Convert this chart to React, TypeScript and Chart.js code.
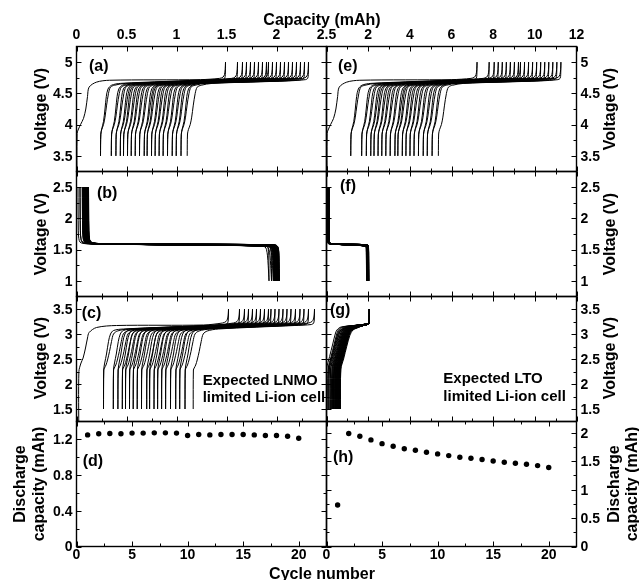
import React, { useEffect, useRef } from 'react';
import { Chart, registerables } from 'chart.js';
Chart.register(...registerables);

const FONT = '"Liberation Sans", Arial, Helvetica, sans-serif';

// ---------------- data ----------------
const cycles = [1, 2, 3, 4, 5, 6, 7, 8, 9, 10, 11, 12, 13, 14, 15, 16, 17, 18, 19, 20];
// (d) discharge capacity, LNMO limited cell (mAh)
const lnmoLimitedCap = [1.25, 1.262, 1.266, 1.262, 1.27, 1.27, 1.273, 1.273, 1.27, 1.243, 1.254, 1.25, 1.254, 1.254, 1.254, 1.25, 1.243, 1.243, 1.235, 1.213];
// (h) discharge capacity, LTO limited cell (mAh)
const ltoLimitedCap = [0.73, 1.99, 1.94, 1.876, 1.81, 1.765, 1.72, 1.695, 1.66, 1.63, 1.6, 1.57, 1.553, 1.53, 1.506, 1.483, 1.465, 1.447, 1.424, 1.39];

// (a) LNMO half cell: end-of-charge capacity per cycle (mAh)
const lnmoChargeEnd = [1.49, 1.61, 1.66, 1.7, 1.74, 1.78, 1.82, 1.86, 1.9, 1.92, 1.96, 2.0, 2.04, 2.08, 2.12, 2.16, 2.2, 2.24, 2.28, 2.32];
// (e) capacity scale of LNMO electrode vs (a)
const lnmoScaleE = 4.85;
// curve shapes read from (a): [capacity offset (mAh), voltage (V)]
const lnmoFirstHead = [[0.005, 3.0], [0.006, 3.86], [0.02, 3.93], [0.04, 4.0], [0.07, 4.1], [0.093, 4.25], [0.11, 4.45], [0.126, 4.6], [0.2, 4.68], [0.33, 4.71]];
const lnmoChargeHead = [[0, 3.5], [0.003, 3.84], [0.012, 3.93], [0.03, 4.05], [0.045, 4.25], [0.058, 4.45], [0.075, 4.57], [0.11, 4.63], [0.2, 4.66]];
const lnmoChargeTail = [[-0.25, 4.72], [-0.06, 4.74], [-0.025, 4.76], [-0.01, 4.8], [-0.003, 4.88], [0, 5.0]];
const lnmoDischHead = [[0, 5.0], [-0.002, 4.8], [-0.008, 4.74], [-0.03, 4.72], [-0.2, 4.7]];
const lnmoDischTail = [[0.25, 4.66], [0.14, 4.63], [0.1, 4.6], [0.08, 4.5], [0.06, 4.3], [0.045, 4.12], [0.03, 4.0], [0.012, 3.92], [0.003, 3.85], [0, 3.5]];

// (b)/(f) LTO half cell
const ltoStart = [0.015, 0.035, 0.058, 0.065, 0.07, 0.075, 0.08, 0.084, 0.088, 0.092, 0.096, 0.1, 0.103, 0.106, 0.109, 0.112, 0.114, 0.116, 0.118, 0.12];
const ltoEnd = [1.925, 1.95, 1.968, 1.975, 1.98, 1.985, 1.99, 1.994, 1.998, 2.002, 2.006, 2.01, 2.013, 2.016, 2.019, 2.022, 2.024, 2.026, 2.028, 2.03];
const ltoDischHead = [[0, 2.5], [0.003, 1.8], [0.008, 1.68], [0.02, 1.62], [0.05, 1.6], [0.12, 1.59]];
const ltoDischTail = [[-0.3, 1.565], [-0.08, 1.555], [-0.04, 1.545], [-0.025, 1.5], [-0.015, 1.4], [-0.008, 1.25], [0, 1.0]];
const ltoChargeHead = [[0, 1.0], [-0.002, 1.4], [-0.01, 1.53], [-0.03, 1.57], [-0.1, 1.58]];
const ltoChargeTail = [[0.3, 1.59], [0.08, 1.6], [0.03, 1.62], [0.012, 1.66], [0.004, 1.8], [0, 2.5]];

// (c) expected LNMO limited Li-ion cell
const cellChargeEnd = [1.52, 1.63, 1.68, 1.72, 1.76, 1.8, 1.84, 1.88, 1.92, 1.945, 1.985, 2.025, 2.065, 2.105, 2.145, 2.19, 2.235, 2.275, 2.32, 2.38];
const cellFirstHead = [[0.023, 1.0], [0.024, 2.25], [0.045, 2.42], [0.066, 2.52], [0.09, 2.72], [0.11, 2.92], [0.126, 3.03], [0.2, 3.13], [0.4, 3.17]];
const cellChargeHead = [[0, 1.5], [0.003, 2.3], [0.012, 2.42], [0.03, 2.6], [0.05, 2.85], [0.07, 3.0], [0.1, 3.07], [0.2, 3.1]];
const cellChargeTail = [[-0.25, 3.18], [-0.06, 3.22], [-0.025, 3.25], [-0.01, 3.3], [-0.003, 3.38], [0, 3.5]];
const cellDischHead = [[0, 3.5], [-0.002, 3.3], [-0.008, 3.22], [-0.03, 3.19], [-0.2, 3.17]];
const cellDischTail = [[0.25, 3.1], [0.14, 3.06], [0.1, 3.0], [0.08, 2.85], [0.06, 2.65], [0.04, 2.48], [0.025, 2.38], [0.01, 2.32], [0.002, 2.28], [0, 1.5]];

// (g) expected LTO limited Li-ion cell
const gChargeEnd = 2.06;
const gChargeHead = [[0, 1.5], [0.01, 2.3], [0.15, 2.55], [0.3, 2.8], [0.42, 3.0], [0.5, 3.08], [0.7, 3.14]];
const gChargeTail = [[-0.5, 3.18], [-0.1, 3.2], [-0.04, 3.22], [-0.015, 3.28], [0, 3.5]];
const gDischHead = [[0, 3.5], [-0.01, 3.25], [-0.04, 3.2], [-0.3, 3.17]];
const gDischTail = [[0.8, 3.12], [0.6, 3.08], [0.45, 2.97], [0.3, 2.75], [0.15, 2.5], [0.02, 2.3], [0, 1.5]];

// ticks
const capLeftMajor = [0, 0.5, 1, 1.5, 2, 2.5];
const capLeftMinor = [0.25, 0.75, 1.25, 1.75, 2.25];
const capRightMajor = [0, 2, 4, 6, 8, 10, 12];
const capRightLabels = [2, 4, 6, 8, 10, 12];
const capRightMinor = [1, 3, 5, 7, 9, 11];
const cycleMajor = [0, 5, 10, 15, 20];
const cycleMinor = [2.5, 7.5, 12.5, 17.5];
const voltLnmoMajor = [3.5, 4, 4.5, 5];
const voltLnmoMinor = [3.75, 4.25, 4.75];
const voltLtoMajor = [1, 1.5, 2, 2.5];
const voltLtoMinor = [1.25, 1.75, 2.25];
const voltCellMajor = [1.5, 2, 2.5, 3, 3.5];
const voltCellMinor = [1.75, 2.25, 2.75, 3.25];
const capDMajor = [0, 0.4, 0.8, 1.2];
const capDMinor = [0.2, 0.6, 1.0];
const capHMajor = [0, 0.5, 1, 1.5, 2];
const capHMinor = [0.25, 0.75, 1.25, 1.75];

// ---------------- builders ----------------
type P = { x: number; y: number };
function shifted(base: number, shape: number[][], scale = 1): P[] {
  return shape.map(([dx, v]) => ({ x: (base + dx) * scale, y: v }));
}
function curve(data: P[]) {
  return { data, showLine: true, pointRadius: 0, borderColor: '#000', borderWidth: 1, tension: 0.3, fill: false };
}
function dots(xs: number[], ys: number[]) {
  return { data: xs.map((x, i) => ({ x, y: ys[i] })), showLine: false, pointRadius: 2.7, pointBackgroundColor: '#000', pointBorderColor: '#000', pointBorderWidth: 0 };
}
function cumulative(first: number[][], head: number[][], tail: number[][], dHead: number[][], dTail: number[][], ends: number[], caps: number[], scale = 1) {
  const out: any[] = [];
  let s = 0;
  for (let i = 0; i < ends.length; i++) {
    const e = ends[i];
    out.push(curve([...shifted(s, i === 0 ? first : head, scale), ...shifted(e, tail, scale)]));
    const f = e - caps[i];
    out.push(curve([...shifted(e, dHead, scale), ...shifted(f, dTail, scale)]));
    s = f;
  }
  return out;
}
function ltoCurves() {
  const out: any[] = [];
  for (let i = 0; i < ltoStart.length; i++) {
    out.push(curve([...shifted(ltoStart[i], ltoDischHead), ...shifted(ltoEnd[i], ltoDischTail)]));
    if (i + 1 < ltoStart.length) out.push(curve([...shifted(ltoEnd[i], ltoChargeHead), ...shifted(ltoStart[i + 1], ltoChargeTail)]));
  }
  return out;
}
function gCurves() {
  const out: any[] = [];
  out.push(curve([...shifted(0, gChargeHead), ...shifted(gChargeEnd, gChargeTail)]));
  for (let i = 1; i < ltoLimitedCap.length; i++) {
    const f = gChargeEnd - ltoLimitedCap[i];
    out.push(curve([...shifted(gChargeEnd, gDischHead), ...shifted(f, gDischTail)]));
    out.push(curve([...shifted(f, gChargeHead), ...shifted(gChargeEnd, gChargeTail)]));
  }
  return out;
}

// ---------------- layout ----------------
const W = 639, H = 580;
const LEFT = 76.5, MID = 326.5, RIGHT = 576.5;
const ROWS = [46.5, 171.5, 296.5, 421.5, 546.5];

type Axis = { min: number; max: number; major: number[]; minor: number[]; labels?: number[]; pos: string; pad: number };
type Txt = { s: string; x: number; y: number; size: number; align?: CanvasTextAlign; base?: CanvasTextBaseline; rot?: boolean };
type Panel = { id: string; l: number; r: number; t: number; b: number; x: Axis; y: Axis; datasets: any[]; texts: Txt[] };

const lab = (s: string, x: number, y: number): Txt => ({ s, x, y, size: 16, align: 'left', base: 'middle' });
const vt = (s: string, x: number, y: number): Txt => ({ s, x, y, size: 16, align: 'center', base: 'alphabetic', rot: true });
const note = (s: string, x: number, y: number): Txt => ({ s, x, y, size: 15, align: 'left', base: 'middle' });

const xLeftHidden: Axis = { min: 0, max: 2.5, major: capLeftMajor, minor: capLeftMinor, pos: 'bottom', pad: 0 };
const xRightHidden: Axis = { min: 0, max: 12, major: capRightMajor, minor: capRightMinor, pos: 'bottom', pad: 0 };

const PANELS: Panel[] = [
  {
    id: 'a', l: LEFT, r: MID, t: ROWS[0], b: ROWS[1],
    x: { ...xLeftHidden, labels: capLeftMajor, pos: 'top', pad: 2.5 },
    y: { min: 3.25, max: 5.25, major: voltLnmoMajor, minor: voltLnmoMinor, labels: voltLnmoMajor, pos: 'left', pad: 4 },
    datasets: cumulative(lnmoFirstHead, lnmoChargeHead, lnmoChargeTail, lnmoDischHead, lnmoDischTail, lnmoChargeEnd, lnmoLimitedCap),
    texts: [{ s: 'Capacity (mAh)', x: 322, y: 24.5, size: 16, align: 'center', base: 'alphabetic' }, vt('Voltage (V)', 45.8, 109), lab('(a)', 89, 67)],
  },
  {
    id: 'e', l: MID, r: RIGHT, t: ROWS[0], b: ROWS[1],
    x: { ...xRightHidden, labels: capRightLabels, pos: 'top', pad: 2.5 },
    y: { min: 3.25, max: 5.25, major: voltLnmoMajor, minor: voltLnmoMinor, labels: voltLnmoMajor, pos: 'right', pad: 4 },
    datasets: cumulative(lnmoFirstHead, lnmoChargeHead, lnmoChargeTail, lnmoDischHead, lnmoDischTail, lnmoChargeEnd, lnmoLimitedCap, lnmoScaleE),
    texts: [vt('Voltage (V)', 615, 109), lab('(e)', 338, 67)],
  },
  {
    id: 'b', l: LEFT, r: MID, t: ROWS[1], b: ROWS[2],
    x: xLeftHidden,
    y: { min: 0.75, max: 2.75, major: voltLtoMajor, minor: voltLtoMinor, labels: voltLtoMajor, pos: 'left', pad: 4 },
    datasets: ltoCurves(),
    texts: [vt('Voltage (V)', 45.8, 234), lab('(b)', 97, 194)],
  },
  {
    id: 'f', l: MID, r: RIGHT, t: ROWS[1], b: ROWS[2],
    x: xRightHidden,
    y: { min: 0.75, max: 2.75, major: voltLtoMajor, minor: voltLtoMinor, labels: voltLtoMajor, pos: 'right', pad: 4 },
    datasets: ltoCurves(),
    texts: [vt('Voltage (V)', 615, 234), lab('(f)', 340, 187)],
  },
  {
    id: 'c', l: LEFT, r: MID, t: ROWS[2], b: ROWS[3],
    x: xLeftHidden,
    y: { min: 1.25, max: 3.75, major: voltCellMajor, minor: voltCellMinor, labels: voltCellMajor, pos: 'left', pad: 4 },
    datasets: cumulative(cellFirstHead, cellChargeHead, cellChargeTail, cellDischHead, cellDischTail, cellChargeEnd, lnmoLimitedCap),
    texts: [vt('Voltage (V)', 45.8, 358), lab('(c)', 81.7, 314), note('Expected LNMO', 202.7, 381), note('limited Li-ion cell', 202.7, 398)],
  },
  {
    id: 'g', l: MID, r: RIGHT, t: ROWS[2], b: ROWS[3],
    x: xRightHidden,
    y: { min: 1.25, max: 3.75, major: voltCellMajor, minor: voltCellMinor, labels: voltCellMajor, pos: 'right', pad: 4 },
    datasets: gCurves(),
    texts: [vt('Voltage (V)', 615, 358), lab('(g)', 330, 311), note('Expected LTO', 443.3, 379), note('limited Li-ion cell', 443.3, 397.3)],
  },
  {
    id: 'd', l: LEFT, r: MID, t: ROWS[3], b: ROWS[4],
    x: { min: 0, max: 22.5, major: cycleMajor, minor: cycleMinor, labels: cycleMajor, pos: 'bottom', pad: 0.5 },
    y: { min: 0, max: 1.4, major: capDMajor, minor: capDMinor, labels: capDMajor, pos: 'left', pad: 4 },
    datasets: [dots(cycles, lnmoLimitedCap)],
    texts: [vt('Discharge', 25.3, 484), vt('capacity (mAh)', 43.6, 484), lab('(d)', 82.7, 462), { s: 'Cycle number', x: 322, y: 579, size: 16, align: 'center', base: 'alphabetic' }],
  },
  {
    id: 'h', l: MID, r: RIGHT, t: ROWS[3], b: ROWS[4],
    x: { min: 0, max: 22.5, major: cycleMajor, minor: cycleMinor, labels: cycleMajor, pos: 'bottom', pad: 0.5 },
    y: { min: 0, max: 2.2, major: capHMajor, minor: capHMinor, labels: capHMajor, pos: 'right', pad: 4 },
    datasets: [dots(cycles, ltoLimitedCap)],
    texts: [vt('Discharge', 619.2, 484), vt('capacity (mAh)', 636.5, 484), lab('(h)', 333, 458)],
  },
];

// size of the axis box = distance from plot edge to the canvas edge
function axisSize(p: Panel, pos: string) {
  if (pos === 'left') return p.l;
  if (pos === 'right') return W - p.r;
  if (pos === 'top') return p.t;
  return H - p.b;
}

function axisOpts(p: Panel, ax: Axis, horizontal: boolean) {
  const shown = !!ax.labels;
  const size = shown ? axisSize(p, ax.pos) : 0;
  return {
    type: 'linear',
    position: ax.pos,
    min: ax.min,
    max: ax.max,
    display: shown,
    grid: { display: false, drawTicks: false },
    border: { display: false },
    ticks: {
      color: '#000',
      font: { family: FONT, size: 14, weight: 'bold' },
      padding: ax.pad,
      autoSkip: false,
      maxRotation: 0,
      minRotation: 0,
      labelOffset: horizontal ? 0 : 1,
      callback: (v: any) => String(v),
    },
    afterBuildTicks: (scale: any) => {
      if (ax.labels) scale.ticks = ax.labels.map((v) => ({ value: v }));
    },
    afterFit: (scale: any) => {
      if (horizontal) scale.height = size;
      else scale.width = size;
    },
  };
}

function framePlugin(p: Panel) {
  return {
    id: 'frame_' + p.id,
    afterDraw(chart: any) {
      const { ctx, chartArea: a } = chart;
      const xs = chart.scales.x;
      const ys = chart.scales.y;
      ctx.save();
      ctx.strokeStyle = '#000';
      ctx.lineWidth = 1;
      ctx.beginPath();
      const xt = (vals: number[], len: number) => {
        for (const v of vals) {
          const px = Math.round(xs.getPixelForValue(v)) + 0.5;
          ctx.moveTo(px, a.top); ctx.lineTo(px, a.top + len);
          ctx.moveTo(px, a.bottom); ctx.lineTo(px, a.bottom - len);
        }
      };
      const yt = (vals: number[], len: number) => {
        for (const v of vals) {
          const py = Math.round(ys.getPixelForValue(v)) + 0.5;
          ctx.moveTo(a.left, py); ctx.lineTo(a.left + len, py);
          ctx.moveTo(a.right, py); ctx.lineTo(a.right - len, py);
        }
      };
      xt(p.x.major, 5); xt(p.x.minor, 3); yt(p.y.major, 5); yt(p.y.minor, 3);
      ctx.stroke();
      ctx.lineWidth = 1.4;
      ctx.strokeRect(a.left, a.top, a.right - a.left, a.bottom - a.top);
      ctx.fillStyle = '#000';
      for (const t of p.texts) {
        ctx.save();
        ctx.font = `bold ${t.size}px ${FONT}`;
        ctx.textAlign = t.align || 'left';
        ctx.textBaseline = t.base || 'alphabetic';
        ctx.translate(t.x, t.y);
        if (t.rot) ctx.rotate(-Math.PI / 2);
        ctx.fillText(t.s, 0, 0);
        ctx.restore();
      }
      ctx.restore();
    },
  };
}

function makeChart(canvas: HTMLCanvasElement, p: Panel) {
  const pad = {
    left: p.y.labels && p.y.pos === 'left' ? 0 : p.l,
    right: p.y.labels && p.y.pos === 'right' ? 0 : W - p.r,
    top: p.x.labels && p.x.pos === 'top' ? 0 : p.t,
    bottom: p.x.labels && p.x.pos === 'bottom' ? 0 : H - p.b,
  };
  return new Chart(canvas, {
    type: 'scatter',
    data: { datasets: p.datasets },
    options: {
      animation: false,
      responsive: false,
      devicePixelRatio: 1,
      events: [],
      layout: { padding: pad },
      plugins: { legend: { display: false }, tooltip: { enabled: false } },
      scales: { x: axisOpts(p, p.x, true), y: axisOpts(p, p.y, false) } as any,
    },
    plugins: [framePlugin(p)],
  } as any);
}

export default function App() {
  const refs = useRef<(HTMLCanvasElement | null)[]>([]);
  useEffect(() => {
    const charts = PANELS.map((p, i) => makeChart(refs.current[i] as HTMLCanvasElement, p));
    return () => charts.forEach((c) => c.destroy());
  }, []);
  return (
    <div style={{ position: 'absolute', left: 0, top: 0, width: W, height: H, background: '#fff', overflow: 'hidden' }}>
      {PANELS.map((p, i) => (
        <canvas
          key={p.id}
          ref={(el) => { refs.current[i] = el; }}
          width={W}
          height={H}
          style={{ position: 'absolute', left: 0, top: 0, width: W, height: H }}
        />
      ))}
    </div>
  );
}
